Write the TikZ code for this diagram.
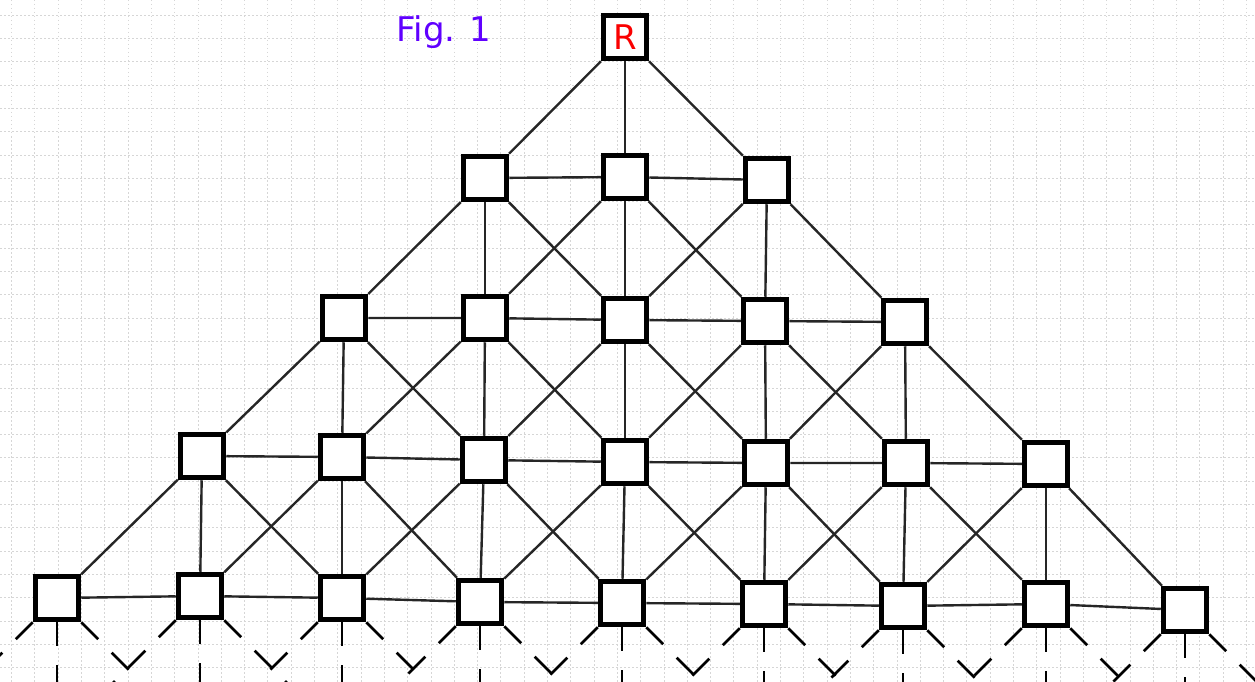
\documentclass[tikz,border=0pt]{standalone}
\usepackage{fontspec}
\setmainfont{DejaVu Sans}
\definecolor{figc}{RGB}{96,0,255}
\definecolor{rc}{RGB}{250,0,0}
\begin{document}
\begin{tikzpicture}[x=1pt,y=-1pt,
  box/.style={draw, line width=5.5pt, minimum size=43pt, inner sep=0pt, fill=white},
  link/.style={line width=2.4pt, black!85},
  stub/.style={line width=2.6pt, black, dash pattern=on 24pt off 19pt on 24pt off 19pt},
  gridl/.style={black!16, line width=0.6pt, dash pattern=on 1.5pt off 2.5pt}]
\useasboundingbox (0,0) rectangle (1255,682);
\clip (0,0) rectangle (1255,682);
\fill[white] (0,0) rectangle (1255,682);
% grid paper
\foreach \k in {0,...,29} \draw[gridl] (0,{15+23.3*\k}) -- (1255,{15+23.3*\k});
\foreach \k in {0,...,54} \draw[gridl] ({11.4+23.3*\k},0) -- ({11.4+23.3*\k},682);
% title
\node[text=figc, font=\fontsize{34}{40}\selectfont] (fig) at (444,32) {Fig. 1};
% nodes
\node[box, text=rc, font=\fontsize{34}{40}\selectfont] (r) at (625,37) {R};
\foreach \n/\x/\y in {1/485/178, 2/625/177, 3/767/180}
  \node[box] (a\n) at (\x,\y) {};
\foreach \n/\x/\y in {1/344/318, 2/485/318, 3/625/320, 4/765/321, 5/905/322}
  \node[box] (b\n) at (\x,\y) {};
\foreach \n/\x/\y in {1/202/456, 2/342/457, 3/484/460, 4/625/462, 5/766/463, 6/906/463, 7/1046/464}
  \node[box] (c\n) at (\x,\y) {};
\foreach \n/\x/\y in {1/57/598, 2/200/596, 3/342/598, 4/480/602, 5/622/603, 6/764/604, 7/903/606, 8/1046/604, 9/1185/610}
  \node[box] (d\n) at (\x,\y) {};
% free ends below the last row
\foreach \n in {1,...,9} {
  \coordinate (el\n) at ([shift={(-140,140)}]d\n.center);
  \coordinate (em\n) at ([shift={(0,140)}]d\n.center);
  \coordinate (er\n) at ([shift={(140,140)}]d\n.center);
}
% links from R
\foreach \i in {1,2,3} \draw[link] (r) -- (a\i);
% horizontal links
\draw[link] (a1) -- (a2) -- (a3);
\draw[link] (b1) -- (b2) -- (b3) -- (b4) -- (b5);
\draw[link] (c1) -- (c2) -- (c3) -- (c4) -- (c5) -- (c6) -- (c7);
\draw[link] (d1) -- (d2) -- (d3) -- (d4) -- (d5) -- (d6) -- (d7) -- (d8) -- (d9);
% downward links
\foreach \i [evaluate=\i as \j using int(\i+1), evaluate=\i as \k using int(\i+2)] in {1,2,3}
  {\draw[link] (a\i) -- (b\i); \draw[link] (a\i) -- (b\j); \draw[link] (a\i) -- (b\k);}
\foreach \i [evaluate=\i as \j using int(\i+1), evaluate=\i as \k using int(\i+2)] in {1,...,5}
  {\draw[link] (b\i) -- (c\i); \draw[link] (b\i) -- (c\j); \draw[link] (b\i) -- (c\k);}
\foreach \i [evaluate=\i as \j using int(\i+1), evaluate=\i as \k using int(\i+2)] in {1,...,7}
  {\draw[link] (c\i) -- (d\i); \draw[link] (c\i) -- (d\j); \draw[link] (c\i) -- (d\k);}
% dashed continuation
\foreach \n in {1,...,9}
  {\draw[stub] (d\n) -- (el\n); \draw[stub] (d\n) -- (em\n); \draw[stub] (d\n) -- (er\n);}
\end{tikzpicture}
\end{document}
